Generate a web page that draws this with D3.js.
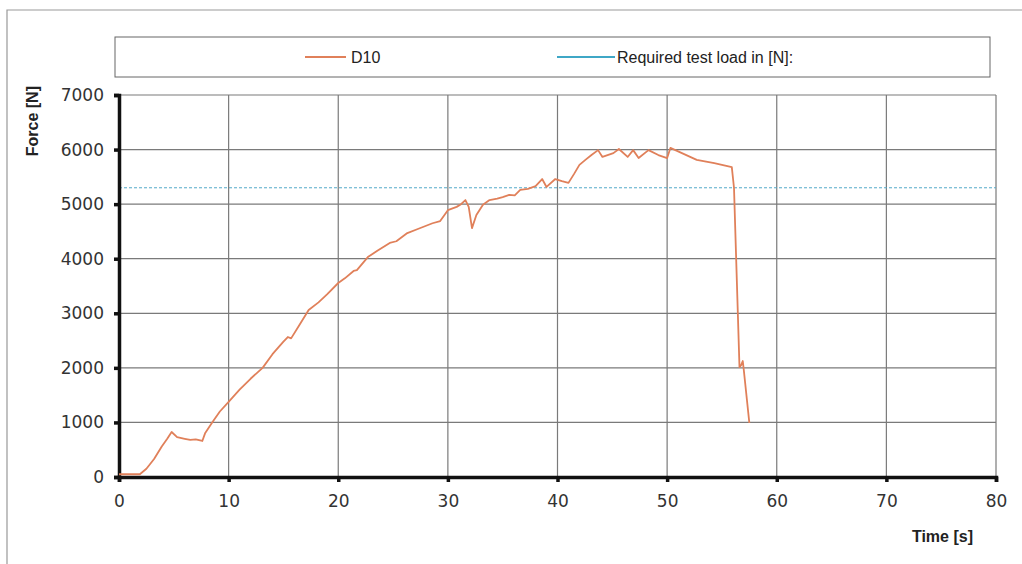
<!DOCTYPE html>
<html>
<head>
<meta charset="utf-8">
<script src="https://cdn.jsdelivr.net/npm/d3@7"></script>
<style>
  body { margin: 0; background: #fff; }
  svg { display: block; }
</style>
</head>
<body>
<script>
// time [s] and force [N]
const timeS = [0, 1, 1.9, 2.5, 3.2, 3.9, 4.4, 4.8, 5.3, 6.0, 6.5, 7.0, 7.6, 7.85, 8.5, 9.2, 10,
  11, 12, 13.1, 14, 15, 15.4, 15.7, 16.5, 17.3, 18.2, 19, 20, 20.6, 21.4, 21.7, 22.7, 23.6, 24.7,
  25.3, 26.3, 27.2, 28.6, 29.3, 30, 30.8, 31.2, 31.6, 31.9, 32.2, 32.6, 33.2, 33.8, 34.5, 35,
  35.6, 36.1, 36.6, 37.3, 38, 38.6, 39, 39.8, 40.4, 41, 41.5, 42, 42.6, 43.1, 43.7, 44.1, 45.1,
  45.6, 46.4, 46.9, 47.4, 48.3, 49.2, 50, 50.3, 51.5, 52.7, 54.3, 55.9, 56.1, 56.6, 56.75, 56.9,
  57.0, 57.5];
const forceN = [50, 50, 50, 150, 330, 560, 700, 825, 730, 700, 680, 690, 660, 800, 1000, 1200, 1375,
  1600, 1800, 2000, 2250, 2480, 2565, 2540, 2800, 3060, 3200, 3350, 3555, 3640, 3775, 3790, 4030, 4150, 4290,
  4320, 4470, 4540, 4650, 4690, 4890, 4950, 5000, 5075, 4950, 4560, 4800, 4990, 5075, 5100, 5130,
  5170, 5160, 5260, 5280, 5330, 5460, 5315, 5460, 5420, 5390, 5550, 5720, 5820, 5900, 5990, 5865, 5935,
  6010, 5865, 5990, 5845, 5990, 5900, 5845, 6030, 5920, 5810, 5750, 5680, 5300, 2015, 2050, 2125,
  1950, 990];
const requiredLoad = 5300;
const xTicks = [0, 10, 20, 30, 40, 50, 60, 70, 80];
const yTicks = [0, 1000, 2000, 3000, 4000, 5000, 6000, 7000];
const seriesNames = ["D10", "Required test load in [N]:"];

const W = 1022, H = 564;
const svg = d3.select("body").append("svg")
  .attr("width", W).attr("height", H)
  .attr("viewBox", [0, 0, W, H]);

const m = { left: 119, right: 996, top: 95, bottom: 477 };
const x = d3.scaleLinear().domain([0, 80]).range([m.left, m.right]);
const y = d3.scaleLinear().domain([0, 7000]).range([m.bottom, m.top]);

// outer frame
svg.append("path")
  .attr("d", `M7,${H} V10 H${W}`)
  .attr("fill", "none").attr("stroke", "#999").attr("stroke-width", 1.2);

// legend box
svg.append("rect")
  .attr("x", 115).attr("y", 37).attr("width", 875).attr("height", 40)
  .attr("fill", "none").attr("stroke", "#666").attr("stroke-width", 1);

const legend = [
  { name: seriesNames[0], x1: 305, x2: 346, tx: 351, color: "#e0805a" },
  { name: seriesNames[1], x1: 557, x2: 615, tx: 617, color: "#3fa7c6" }
];
legend.forEach(l => {
  svg.append("line").attr("x1", l.x1).attr("x2", l.x2).attr("y1", 57).attr("y2", 57)
    .attr("stroke", l.color).attr("stroke-width", 2);
  svg.append("text").attr("x", l.tx).attr("y", 63).text(l.name)
    .attr("font-family", "Liberation Sans, Arial, sans-serif").attr("font-size", 16).attr("fill", "#222");
});

// grid
svg.append("g").selectAll("line").data(xTicks.slice(1)).join("line")
  .attr("x1", d => x(d)).attr("x2", d => x(d)).attr("y1", m.top).attr("y2", m.bottom)
  .attr("stroke", "#7a7a7a").attr("stroke-width", 1.2);
svg.append("g").selectAll("line").data(yTicks.slice(1)).join("line")
  .attr("x1", m.left).attr("x2", m.right).attr("y1", d => y(d)).attr("y2", d => y(d))
  .attr("stroke", "#7a7a7a").attr("stroke-width", 1.2);

// required load
svg.append("line")
  .attr("x1", m.left).attr("x2", m.right).attr("y1", y(requiredLoad)).attr("y2", y(requiredLoad))
  .attr("stroke", "#52a9c9").attr("stroke-width", 1).attr("stroke-dasharray", "3,2");

// axes
const xAxis = svg.append("g").attr("transform", `translate(0,${m.bottom})`)
  .call(d3.axisBottom(x).tickValues(xTicks).tickFormat(d3.format("d")).tickSize(5).tickPadding(13));
const yAxis = svg.append("g").attr("transform", `translate(${m.left},0)`)
  .call(d3.axisLeft(y).tickValues(yTicks).tickFormat(d3.format("d")).tickSize(5).tickPadding(10));
[xAxis, yAxis].forEach(g => {
  g.select(".domain").attr("stroke", "#111").attr("stroke-width", 3.5);
  g.selectAll(".tick line").attr("stroke", "#111").attr("stroke-width", 3.5);
  g.selectAll(".tick text").attr("font-family", "DejaVu Sans, Verdana, sans-serif")
    .attr("font-size", 17).attr("fill", "#333");
});

// data line
svg.append("path")
  .datum(timeS.map((t, i) => [t, forceN[i]]))
  .attr("fill", "none").attr("stroke", "#e0805a").attr("stroke-width", 1.8)
  .attr("stroke-linejoin", "round")
  .attr("d", d3.line().x(d => x(d[0])).y(d => y(d[1])));

// axis titles
svg.append("text").text("Force [N]")
  .attr("transform", "translate(38,86) rotate(-90)").attr("text-anchor", "end")
  .attr("font-family", "Liberation Sans, Arial, sans-serif").attr("font-weight", "bold")
  .attr("font-size", 16).attr("fill", "#222");
svg.append("text").text("Time [s]")
  .attr("x", 973).attr("y", 542).attr("text-anchor", "end")
  .attr("font-family", "Liberation Sans, Arial, sans-serif").attr("font-weight", "bold")
  .attr("font-size", 16).attr("fill", "#222");
</script>
</body>
</html>
